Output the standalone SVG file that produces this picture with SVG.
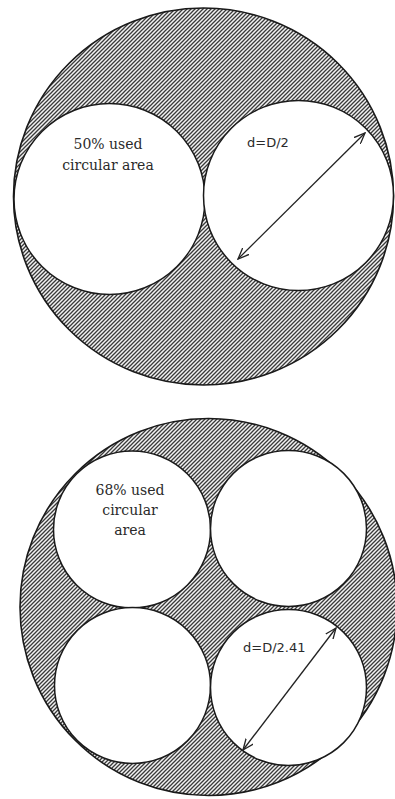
<svg xmlns="http://www.w3.org/2000/svg" width="395" height="799" viewBox="0 0 395 799">
<style>
.outer{fill:url(#hatch);stroke:#1a1a1a;stroke-width:1.6}
.inner{fill:#fff;stroke:#1a1a1a;stroke-width:1.5}
.lbl{font-family:"DejaVu Serif","Liberation Serif",serif;font-size:14px;fill:#2a2a2a;text-anchor:middle}
.dim{font-family:"DejaVu Sans","Liberation Sans",sans-serif;font-size:13px;fill:#2a2a2a}
.arr{stroke:#222;stroke-width:1.3;fill:none;marker-start:url(#ah);marker-end:url(#ah)}
</style>
<defs>
<pattern id="hatch" patternUnits="userSpaceOnUse" width="4" height="4">
<rect width="4" height="4" fill="#f2f2f2"/>
<path d="M-1,1 L1,-1 M0,4 L4,0 M3,5 L5,3" stroke="#3a3a3a" stroke-width="1.3"/>
</pattern>
<marker id="ah" viewBox="0 0 12 10" refX="11" refY="5" markerWidth="12" markerHeight="10" markerUnits="userSpaceOnUse" orient="auto-start-reverse">
<path d="M0,0.5 L11,5 L0,9.5" fill="none" stroke="#222" stroke-width="1.3"/>
</marker>
</defs>
<g id="top-figure">
<ellipse id="top-outer" class="outer" cx="203.5" cy="196.5" rx="190" ry="188.5"/>
<g id="top-left-circle"><circle class="inner" cx="109.5" cy="199" r="95.5"/>
<text class="lbl" x="108" y="149">50% used</text>
<text class="lbl" x="108" y="170">circular area</text></g>
<g id="top-right-circle"><circle class="inner" cx="298.5" cy="195.5" r="95"/>
<text class="dim" x="247" y="147">d=D/2</text></g>
</g>
<g id="bottom-figure">
<circle id="bottom-outer" class="outer" cx="208.5" cy="607" r="188.5"/>
<g id="tl-circle"><circle class="inner" cx="132" cy="529.5" r="78.5"/>
<text class="lbl" x="130" y="495">68% used</text>
<text class="lbl" x="130" y="515">circular</text>
<text class="lbl" x="130" y="535">area</text></g>
<g id="tr-circle"><circle class="inner" cx="288.5" cy="528.5" r="78"/></g>
<g id="bl-circle"><circle class="inner" cx="132.5" cy="685.5" r="78"/></g>
<g id="br-circle"><circle class="inner" cx="288.5" cy="687.5" r="78"/>
<text class="dim" x="243" y="652">d=D/2.41</text></g>
</g>
<g id="connectors">
<line class="arr" x1="365" y1="133" x2="238" y2="259"/>
<line class="arr" x1="336" y1="628" x2="243" y2="750"/>
</g>
</svg>
